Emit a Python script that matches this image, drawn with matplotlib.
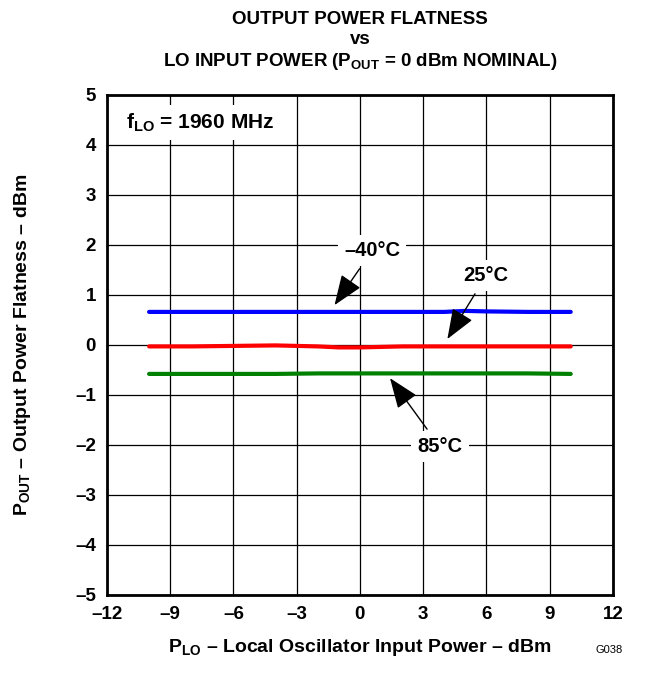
import numpy as np
import matplotlib.pyplot as plt

plt.rcParams['font.family'] = ['Liberation Sans', 'DejaVu Sans']
plt.rcParams['font.weight'] = 'bold'
plt.rcParams['axes.titleweight'] = 'bold'
plt.rcParams['axes.labelweight'] = 'bold'
plt.rcParams['mathtext.fontset'] = 'custom'
plt.rcParams['mathtext.rm'] = 'Liberation Sans:bold'
plt.rcParams['mathtext.bf'] = 'Liberation Sans:bold'
plt.rcParams['mathtext.default'] = 'rm'

# LO input power (dBm)
p_lo = [-10, -8, -6, -4, -2, -1, 0, 2, 4, 5, 6, 8, 10]
# output power flatness (dBm) for each temperature
flat_m40 = [0.66, 0.66, 0.66, 0.66, 0.66, 0.66, 0.66, 0.66, 0.66, 0.68, 0.67, 0.66, 0.66]
flat_25 = [-0.03, -0.03, -0.02, -0.01, -0.03, -0.05, -0.05, -0.03, -0.03, -0.03, -0.03, -0.03, -0.03]
flat_85 = [-0.58, -0.58, -0.58, -0.58, -0.57, -0.57, -0.57, -0.57, -0.57, -0.57, -0.57, -0.57, -0.58]

xticks = [-12, -9, -6, -3, 0, 3, 6, 9, 12]
yticks = [-5, -4, -3, -2, -1, 0, 1, 2, 3, 4, 5]

fig = plt.figure(figsize=(6.52, 6.73), dpi=100)
ax = fig.add_axes([0.164, 0.116, 0.776, 0.743])

ax.plot(p_lo, flat_m40, color='#0000ff', lw=3, solid_capstyle='round')
ax.plot(p_lo, flat_25, color='#ff0000', lw=3, solid_capstyle='round')
ax.plot(p_lo, flat_85, color='#008000', lw=3, solid_capstyle='round')

ax.set_xlim(-12, 12)
ax.set_ylim(-5, 5)
ax.set_xticks(xticks)
ax.set_yticks(yticks)
ax.set_xticklabels([str(t).replace('-', '\u2013') for t in xticks])
ax.set_yticklabels([str(t).replace('-', '\u2013') for t in yticks])
ax.tick_params(length=0, labelsize=13.5, pad=8)
ax.grid(True, color='black', lw=0.9)
ax.set_axisbelow(True)
for s in ax.spines.values():
    s.set_linewidth(2)

box = dict(boxstyle='square,pad=0.3', fc='white', ec='none')
arr = dict(arrowstyle='-|>,head_length=1.3,head_width=0.5', color='black', lw=1)
ax.annotate('\u201340\u00b0C', xy=(-1.28, 0.75), xytext=(0.57, 1.88), fontsize=14.5,
            ha='center', va='center', bbox=box, arrowprops=arr)
ax.annotate('25\u00b0C', xy=(4.08, 0.07), xytext=(5.98, 1.38), fontsize=14.5,
            ha='center', va='center', bbox=box, arrowprops=arr)
ax.annotate('85\u00b0C', xy=(1.35, -0.62), xytext=(3.8, -2.04), fontsize=14.5,
            ha='center', va='center', bbox=box, arrowprops=arr)
ax.text(-11.1, 4.44, r'f$_{\mathrm{LO}}$ = 1960 MHz', fontsize=15, va='center', ha='left', bbox=box)

dash = '\u2013'
ax.set_xlabel(r'P$_{\mathrm{LO}}$ ' + dash + ' Local Oscillator Input Power ' + dash + ' dBm',
              fontsize=14, labelpad=10)
ax.set_ylabel(r'P$_{\mathrm{OUT}}$ ' + dash + ' Output Power Flatness ' + dash + ' dBm',
              fontsize=14, labelpad=30)
ax.set_title('OUTPUT POWER FLATNESS\nvs\n' + r'LO INPUT POWER (P$_{\mathrm{OUT}}$ = 0 dBm NOMINAL)',
             fontsize=13.5, linespacing=1.2, pad=21)
fig.text(0.955, 0.03, 'G038', fontsize=8, fontweight='normal', ha='right')

fig.savefig('out.png', dpi=100)
